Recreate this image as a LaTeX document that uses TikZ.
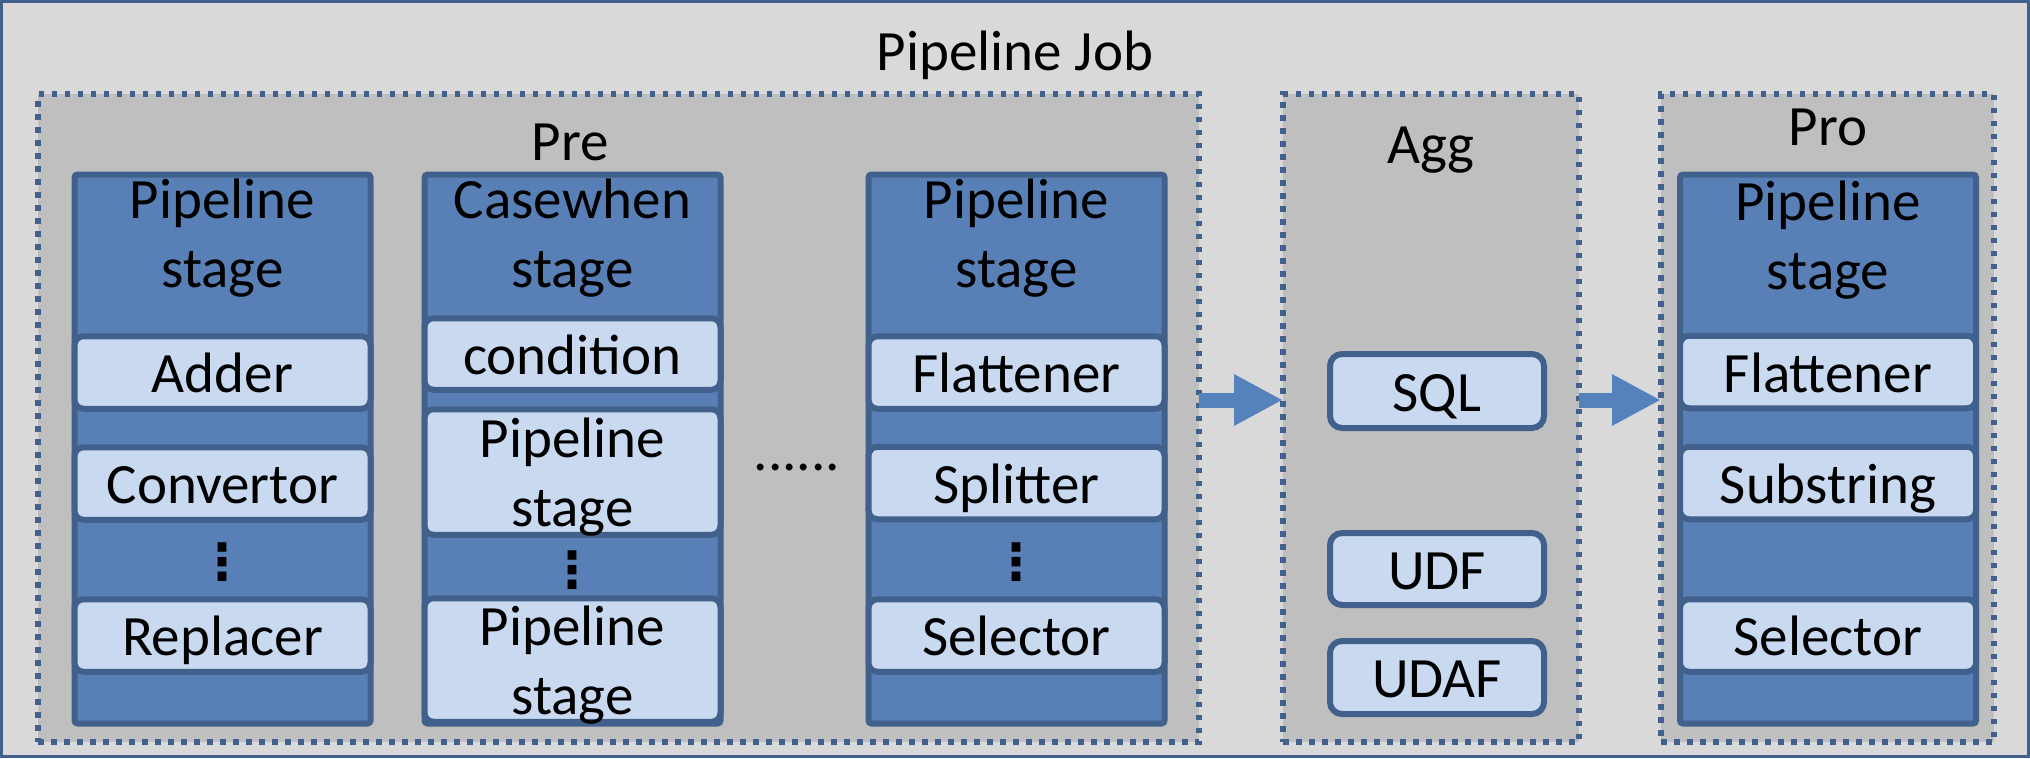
\documentclass[tikz,border=0pt]{standalone}
\usepackage{fontspec}
\setmainfont{Carlito}
\newfontfamily\symfont{DejaVu Sans}
\usetikzlibrary{arrows.meta}
\definecolor{jobfill}{HTML}{D9D9D9}
\definecolor{groupfill}{HTML}{BFBFBF}
\definecolor{darkblue}{HTML}{41608C}
\definecolor{stagefill}{HTML}{5880B6}
\definecolor{itemfill}{HTML}{C8D9F0}
\definecolor{arrowblue}{HTML}{5581BD}
\newcommand{\vdotsym}{{\symfont\bfseries\fontsize{50}{50}\selectfont ⋮}}

\begin{document}
\begin{tikzpicture}[x=1pt,y=-1pt]
  \tikzstyle{every node}=[font=\fontsize{57}{69}\selectfont, inner sep=0pt, outer sep=0pt]
  \tikzstyle{group}=[draw=darkblue, fill=groupfill, line width=5.5pt, dash pattern=on 5.5pt off 7.5pt, minimum height=648pt]
  \tikzstyle{stage}=[draw=darkblue, fill=stagefill, line width=6pt, rounded corners=3pt, minimum width=296pt, minimum height=549pt]
  \tikzstyle{stagehead}=[anchor=south, align=center, text depth=0pt]
  \tikzstyle{itembox}=[draw=darkblue, fill=itemfill, line width=6pt, rounded corners=9pt, minimum width=296pt, minimum height=72.5pt]
  \tikzstyle{item}=[itembox, text height=40pt, text depth=0pt]
  \tikzstyle{stackitem}=[itembox, align=center, text depth=0pt]
  \tikzstyle{aggitem}=[item, rounded corners=12pt, minimum width=214pt]
  \tikzstyle{flow}=[draw=arrowblue, line width=15pt, -{Triangle[length=49pt,width=48pt]}]
  \useasboundingbox (0,0) rectangle (2030,758);

  % job frame
  \node[draw=darkblue, fill=jobfill, line width=3pt, minimum width=2027pt, minimum height=755pt] (job) at (1015,379) {};
  \node[anchor=base] (jobtitle) at (1015,70) {Pipeline Job};

  % the three groups
  \node[group, minimum width=1161pt] (pre) at (618.5,418) {};
  \node[group, minimum width=296pt] (agg) at (1431,418) {};
  \node[group, minimum width=333pt] (pro) at (1827.5,418) {};
  \node[anchor=base] (pretitle) at (570,160) {Pre};
  \node[anchor=base] (aggtitle) at (1431,163) {Agg};
  \node[anchor=base] (protitle) at (1828,145) {Pro};

  % Pre: first stage
  \node[stage] (stage1) at (222.5,449) {};
  \node[stagehead] (head1) at (222.5,287) {Pipeline\\stage};
  \node[item] (adder) at (222.5,372.5) {Adder};
  \node[item] (convertor) at (222.5,483.5) {Convertor};
  \node (dots1) at (222.5,562) {\vdotsym};
  \node[item] (replacer) at (222.5,635.5) {Replacer};

  % Pre: casewhen stage
  \node[stage] (stage2) at (572.5,449) {};
  \node[stagehead] (head2) at (572.5,287) {Casewhen\\stage};
  \node[item, minimum height=71.5pt] (condition) at (572.5,354) {condition};
  \node[stackitem, minimum height=125.5pt] (casestage1) at (572.5,472) {Pipeline\\stage};
  \node (dots2) at (572.5,570) {\vdotsym};
  \node[stackitem, minimum height=123.5pt] (casestage2) at (572.5,660) {Pipeline\\stage};

  \node[anchor=base] (more) at (797,470) {......};

  % Pre: last stage
  \node[stage] (stage3) at (1016.5,449) {};
  \node[stagehead] (head3) at (1016.5,287) {Pipeline\\stage};
  \node[item] (flattener) at (1016.5,372.5) {Flattener};
  \node[item] (splitter) at (1016.5,483) {Splitter};
  \node (dots3) at (1016.5,562) {\vdotsym};
  \node[item] (selector) at (1016.5,635.5) {Selector};

  % Agg
  \node[aggitem, minimum height=74pt] (sql) at (1437,391) {SQL};
  \node[aggitem, minimum height=72pt] (udf) at (1437,569) {UDF};
  \node[aggitem, minimum height=73pt] (udaf) at (1437,677.5) {UDAF};

  % Pro
  \node[stage] (stage4) at (1828,449) {};
  \node[stagehead] (head4) at (1828,289) {Pipeline\\stage};
  \node[item] (proflattener) at (1828,372) {Flattener};
  \node[item] (substring) at (1828,483) {Substring};
  \node[item] (proselector) at (1828,635.5) {Selector};

  % flow between groups
  \draw[flow] ([yshift=18pt]pre.east) -- ([yshift=18pt]agg.west);
  \draw[flow] ([yshift=18pt]agg.east) -- ([yshift=18pt]pro.west);
\end{tikzpicture}
\end{document}
